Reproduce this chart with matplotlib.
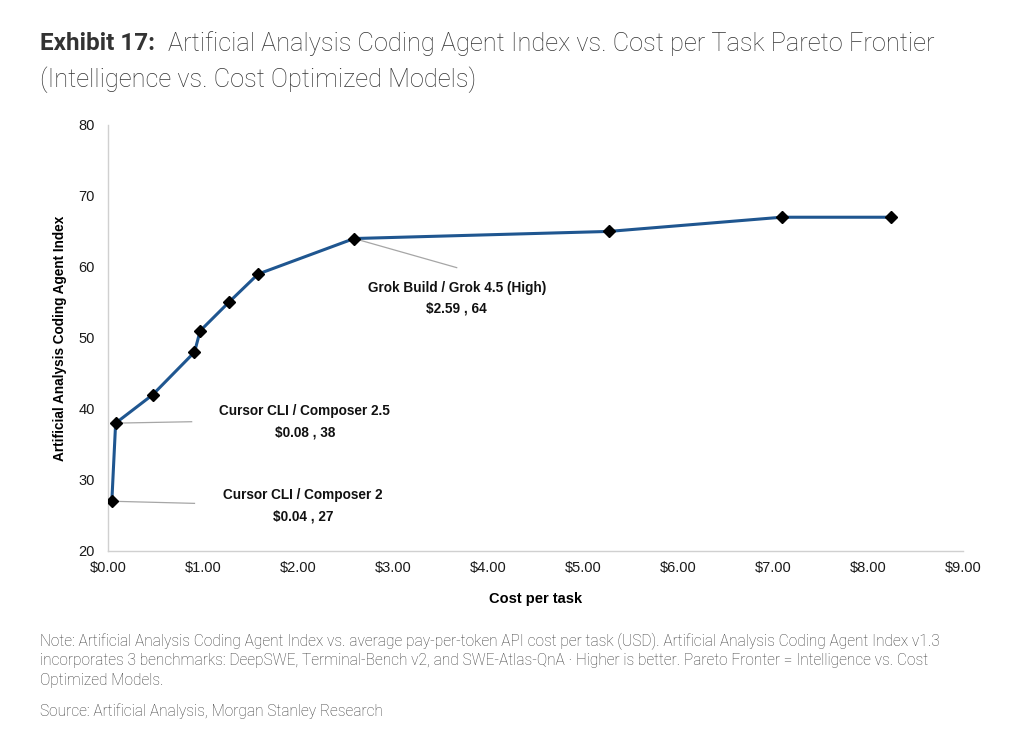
import matplotlib
matplotlib.use("Agg")
import matplotlib.pyplot as plt
from matplotlib.ticker import FuncFormatter

# dati
cost = [0.04, 0.08, 0.47, 0.91, 0.97, 1.27, 1.58, 2.59, 5.27, 7.09, 8.24]
index = [27, 38, 42, 48, 51, 55, 59, 64, 65, 67, 67]

# etichette: testo, punto, fine della linea guida, posizione del testo
labels = ["Grok Build / Grok 4.5 (High)\n$2.59 , 64",
          "Cursor CLI / Composer 2.5\n$0.08 , 38",
          "Cursor CLI / Composer 2\n$0.04 , 27"]
label_pts = [(2.59, 64), (0.08, 38), (0.04, 27)]
label_line_end = [(3.67, 59.9), (0.88, 38.2), (0.91, 26.7)]
label_text_pos = [(3.67, 55.6), (2.07, 38.2), (2.05, 26.4)]

xticks = [0, 1, 2, 3, 4, 5, 6, 7, 8, 9]
yticks = [20, 30, 40, 50, 60, 70, 80]

note_lines = [
    "Note: Artificial Analysis Coding Agent Index vs. average pay-per-token API cost per task (USD). "
    "Artificial Analysis Coding Agent Index v1.3",
    "incorporates 3 benchmarks: DeepSWE, Terminal-Bench v2, and SWE-Atlas-QnA \u00b7 Higher is better. "
    "Pareto Fronter = Intelligence vs. Cost",
    "Optimized Models.",
]
source = "Source: Artificial Analysis, Morgan Stanley Research"

fig = plt.figure(figsize=(10.24, 7.34), dpi=100)
ax = fig.add_axes([0.1055, 0.2494, 0.8350, 0.5804])

ax.plot(cost, index, color="#1f5690", lw=2.2, zorder=2)
ax.plot(cost, index, linestyle="none", marker="D", ms=6.5, color="black", zorder=3)

for txt, p, end, tp in zip(labels, label_pts, label_line_end, label_text_pos):
    ax.plot([p[0], end[0]], [p[1], end[1]], color="#a6a6a6", lw=0.9, zorder=1)
    ax.text(tp[0], tp[1], txt, ha="center", va="center", fontsize=9.8,
            fontweight="bold", family="Liberation Sans", color="#111111",
            linespacing=1.65)

ax.set_xlim(0, 9)
ax.set_ylim(20, 80)
ax.set_xticks(xticks)
ax.set_yticks(yticks)
ax.xaxis.set_major_formatter(FuncFormatter(lambda v, p: f"${v:.2f}"))
for sp_ in ["top", "right"]:
    ax.spines[sp_].set_visible(False)
for sp_ in ["left", "bottom"]:
    ax.spines[sp_].set_color("#d0d0d0")
    ax.spines[sp_].set_linewidth(1.0)
ax.tick_params(length=0)
ax.tick_params(axis="x", pad=7)
ax.tick_params(axis="y", pad=9.5)
for lab in ax.get_xticklabels() + ax.get_yticklabels():
    lab.set_fontfamily("Liberation Sans")
    lab.set_fontsize(10.5)
    lab.set_color("#1a1a1a")

ax.set_xlabel("Cost per task", fontsize=10.5, fontweight="bold",
              family="Liberation Sans")
ax.set_ylabel("Artificial Analysis Coding Agent Index", fontsize=9.8,
              fontweight="bold", family="Liberation Sans")
ax.xaxis.set_label_coords(0.5, -0.096)
ax.yaxis.set_label_coords(-0.048, 0.5)

# titolo
fig.text(40 / 1024, 1 - 44 / 734, "Exhibit 17:", fontsize=17.5, fontweight="bold",
         family="Roboto", color="#333333", va="center")
fig.text(168 / 1024, 1 - 44 / 734,
         "Artificial Analysis Coding Agent Index vs. Cost per Task Pareto Frontier",
         fontsize=18.3, fontweight="light", family="Roboto", color="#333333", va="center")
fig.text(40 / 1024, 1 - 80 / 734, "(Intelligence vs. Cost Optimized Models)",
         fontsize=18.3, fontweight="light", family="Roboto", color="#333333", va="center")

# nota e fonte
for i, line in enumerate(note_lines):
    fig.text(40 / 1024, 1 - (641 + 20 * i) / 734, line, fontsize=11.2, family="Roboto",
             fontweight="light", color="#3a3a3a", va="center")
fig.text(40 / 1024, 1 - 711 / 734, source, fontsize=11.2, family="Roboto",
         fontweight="light", color="#3a3a3a", va="center")

fig.savefig("out.png", dpi=100, facecolor="white")
